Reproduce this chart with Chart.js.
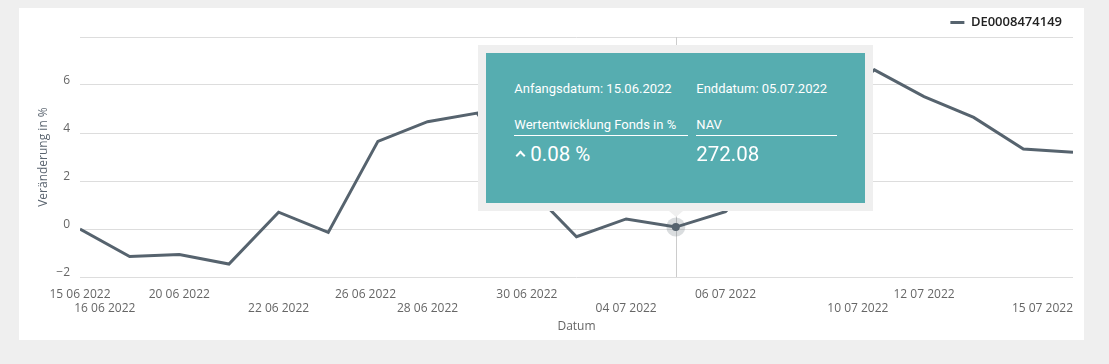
<!DOCTYPE html>
<html><head><meta charset="utf-8">
<script src="https://cdn.jsdelivr.net/npm/chart.js@4.4.0/dist/chart.umd.min.js"></script>
<style>
html,body{margin:0;padding:0;background:#efefef;width:1109px;height:364px;overflow:hidden}
#card{position:absolute;left:19px;top:8px;width:1065px;height:332px;background:#fff}
#wrap{position:absolute;left:0;top:0;width:1065px;height:332px}
#tip{position:absolute;width:379px;height:150px;border:8px solid #efefef;background:#56adb0;font-family:Roboto,sans-serif;color:#fff;display:none}
#tip .t{position:absolute;font-size:13px;line-height:15px;white-space:nowrap}
#tip .u{position:absolute;height:0;border-bottom:1px solid #fff}
#tip .v{position:absolute;font-size:20.5px;line-height:24px;white-space:nowrap}
#tip .car{position:absolute;width:5px;height:5px;border-left:2px solid #fff;border-top:2px solid #fff;transform:rotate(45deg)}
#ptr{position:absolute;width:0;height:0;border-left:7px solid transparent;border-right:7px solid transparent;border-top:6px solid #efefef;display:none}
</style></head><body>
<div id="card"><div id="wrap"><canvas id="c"></canvas></div>
<div id="tip">
  <div class="t" id="tStart" style="left:28px;top:28px"></div>
  <div class="t" id="tEnd" style="left:210px;top:28px"></div>
  <div class="t" style="left:28px;top:64px">Wertentwicklung Fonds in %</div>
  <div class="u" style="left:28px;top:82px;width:174px"></div>
  <div class="t" style="left:210px;top:64px">NAV</div>
  <div class="u" style="left:210px;top:82px;width:141px"></div>
  <div class="car" style="left:31px;top:99px"></div>
  <div class="v" id="tPerf" style="left:44px;top:89px"></div>
  <div class="v" id="tNav" style="left:210px;top:89px"></div>
</div>
<div id="ptr"></div>
</div>
<script>
// ---- data ----
const seriesName = 'DE0008474149';
const dates = ['15.06.2022','17.06.2022','20.06.2022','21.06.2022','22.06.2022','23.06.2022','27.06.2022','28.06.2022','29.06.2022','30.06.2022','01.07.2022','04.07.2022','05.07.2022','06.07.2022','07.07.2022','08.07.2022','11.07.2022','12.07.2022','13.07.2022','14.07.2022','15.07.2022'];
const changePct = [0, -1.15, -1.06, -1.46, 0.70, -0.14, 3.65, 4.47, 4.83, 1.8, -0.32, 0.42, 0.08, 0.72, 2.9, 4.9, 6.63, 5.52, 4.65, 3.33, 3.2];
const tickDates = ['15.06.2022','16.06.2022','20.06.2022','22.06.2022','26.06.2022','28.06.2022','30.06.2022','04.07.2022','06.07.2022','10.07.2022','12.07.2022','15.07.2022'];
const yTicks = [-2, 0, 2, 4, 6, 8];
const hoverIndex = 12;
const hoverNAV = 272.08;

// ---- helpers ----
function toDay(s){const [d,m,y]=s.split('.').map(Number);return Date.UTC(y,m-1,d)/864e5;}
const dayNums = dates.map(toDay);
function ordinalPos(s){
  const t = toDay(s);
  for(let i=0;i<dayNums.length-1;i++){
    if(t>=dayNums[i] && t<=dayNums[i+1]) return i + (t-dayNums[i])/(dayNums[i+1]-dayNums[i]);
  }
  return t<dayNums[0]?0:dayNums.length-1;
}
const tickPos = tickDates.map(ordinalPos);
const tickLabels = tickDates.map(s=>s.split('.').join(' '));
const LINE = '#56636e';
const FONT = "'Open Sans', sans-serif";

const points = changePct.map((v,i)=>({x:i,y:v}));

const clampLabels = {
  id:'clampLabels',
  beforeLayout(chart){
    const lg = chart.legend;
    if (lg && !lg._patched){ const f = lg.fit; lg.fit = function(){ f.call(this); this.height = 32; }; lg._patched = true; }
  },
  beforeDraw(chart){
    const s = chart.scales.x, ctx = chart.ctx, area = chart.chartArea;
    s.getLabelItems().forEach(it=>{
      ctx.save(); ctx.font = it.font.string;
      const lines = Array.isArray(it.label)?it.label:[it.label];
      const w = Math.max(...lines.map(l=>ctx.measureText(l).width));
      ctx.restore();
      const x = it.options.translation[0];
      if (x + w/2 > area.right){ it.options.translation[0] = area.right; it.options.textAlign = 'right'; }
    });
  }
};
const hoverMarks = {
  id:'hoverMarks',
  beforeDatasetsDraw(chart){
    const p = chart.getDatasetMeta(0).data[hoverIndex]; const a = chart.chartArea, ctx = chart.ctx;
    ctx.save(); ctx.strokeStyle = '#cccccc'; ctx.lineWidth = 1;
    ctx.beginPath(); ctx.moveTo(Math.round(p.x)+0.5, a.top); ctx.lineTo(Math.round(p.x)+0.5, a.bottom); ctx.stroke(); ctx.restore();
  },
  afterDatasetsDraw(chart){
    const p = chart.getDatasetMeta(0).data[hoverIndex]; const ctx = chart.ctx;
    ctx.save();
    ctx.fillStyle = 'rgba(86,99,110,0.22)';
    ctx.beginPath(); ctx.arc(p.x, p.y, 9.5, 0, Math.PI*2); ctx.fill();
    ctx.fillStyle = LINE;
    ctx.beginPath(); ctx.arc(p.x, p.y, 4, 0, Math.PI*2); ctx.fill();
    ctx.restore();
  },
  afterRender(chart){
    const p = chart.getDatasetMeta(0).data[hoverIndex];
    const tip = document.getElementById('tip'), ptr = document.getElementById('ptr');
    document.getElementById('tStart').textContent = 'Anfangsdatum: ' + dates[0];
    document.getElementById('tEnd').textContent = 'Enddatum: ' + dates[hoverIndex];
    document.getElementById('tPerf').textContent = changePct[hoverIndex].toFixed(2) + ' %';
    document.getElementById('tNav').textContent = hoverNAV.toFixed(2);
    const W = 395, H = 166;
    tip.style.left = (p.x - W/2) + 'px';
    tip.style.top = (p.y - 16 - H) + 'px';
    tip.style.display = 'block';
    ptr.style.left = (p.x - 7) + 'px';
    ptr.style.top = (p.y - 16) + 'px';
    ptr.style.display = 'block';
  }
};

new Chart(document.getElementById('c'), {
  type: 'line',
  data: { datasets: [{
    label: seriesName, data: points, borderColor: LINE, backgroundColor: LINE,
    borderWidth: 3, pointRadius: 0, pointHoverRadius: 0, tension: 0, fill: false
  }]},
  options: {
    responsive: true, maintainAspectRatio: false, animation: false,
    events: [],
    layout: { padding: { top: -3, right: 11, bottom: 3, left: 0 } },
    plugins: {
      tooltip: { enabled: false },
      legend: {
        position: 'top', align: 'end',
        labels: { usePointStyle: true, pointStyle: 'line', pointStyleWidth: 14, boxHeight: 12,
          color: '#222', font: { family: FONT, size: 13, weight: '600' }, padding: 11 }
      }
    },
    scales: {
      x: {
        type: 'linear', min: 0, max: dates.length - 1,
        afterBuildTicks(s){ s.ticks = tickPos.map(v=>({value:v})); },
        afterFit(s){ s.paddingLeft = 0; s.paddingRight = 0; s.height = 60; },
        ticks: { autoSkip: false, maxRotation: 0, minRotation: 0, padding: 10, color: '#666',
          font: { family: FONT, size: 12 },
          callback: (v, i) => i % 2 === 1 ? ['', tickLabels[i]] : tickLabels[i] },
        grid: { display: false, drawTicks: false },
        border: { display: false },
        title: { display: true, text: 'Datum', color: '#666', font: { family: FONT, size: 12 }, padding: { top: 5, bottom: 3 } }
      },
      y: {
        min: -2, max: 8,
        afterBuildTicks(s){ s.ticks = yTicks.map(v=>({value:v})); },
        afterFit(s){ s.width = 61; s.paddingTop = 0; s.paddingBottom = 0; },
        ticks: { padding: 10, labelOffset: -4, color: '#666', font: { family: FONT, size: 12 },
          callback: v => v === yTicks[yTicks.length-1] ? '' : (v < 0 ? '\u2212' + Math.abs(v) : String(v)) },
        grid: { color: '#dddddd', drawTicks: false },
        border: { display: false },
        title: { display: true, text: 'Veränderung in %', color: '#5b6570', font: { family: FONT, size: 12 }, padding: { top: 17, bottom: 4 } }
      }
    }
  },
  plugins: [clampLabels, hoverMarks]
});
</script>
</body></html>
